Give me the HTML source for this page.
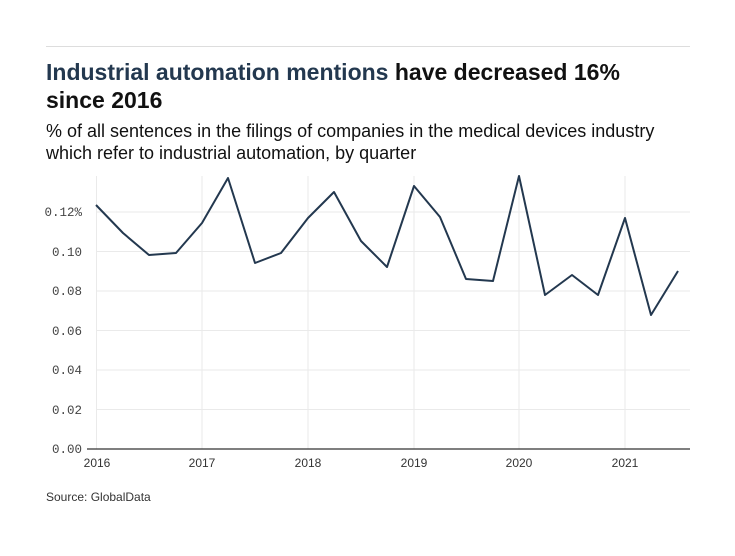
<!DOCTYPE html>
<html><head><meta charset="utf-8"><style>
body{margin:0;background:#fff;width:735px;height:551px;overflow:hidden;font-family:"Liberation Sans",sans-serif;}
</style></head><body>
<svg width="735" height="551" xmlns="http://www.w3.org/2000/svg">
<line x1="46" y1="46.5" x2="690" y2="46.5" stroke="#ddd"/>
<text x="46" y="80" font-size="23" font-weight="bold" fill="#111"><tspan fill="#23384f">Industrial automation mentions</tspan> have decreased 16%</text>
<text x="46" y="108" font-size="23" font-weight="bold" fill="#111">since 2016</text>
<text x="46" y="137" font-size="18" fill="#111">% of all sentences in the filings of companies in the medical devices industry</text>
<text x="46" y="159" font-size="18" fill="#111">which refer to industrial automation, by quarter</text>
<g stroke="#eaeaea" stroke-width="1">
<line x1="96.5" y1="176" x2="96.5" y2="449"/><line x1="202" y1="176" x2="202" y2="449"/><line x1="308" y1="176" x2="308" y2="449"/><line x1="414" y1="176" x2="414" y2="449"/><line x1="519" y1="176" x2="519" y2="449"/><line x1="625" y1="176" x2="625" y2="449"/>
<line x1="96" y1="212" x2="690" y2="212"/><line x1="96" y1="251.5" x2="690" y2="251.5"/><line x1="96" y1="291" x2="690" y2="291"/><line x1="96" y1="330.5" x2="690" y2="330.5"/><line x1="96" y1="370" x2="690" y2="370"/><line x1="96" y1="409.5" x2="690" y2="409.5"/>
</g>
<line x1="87" y1="449" x2="690" y2="449" stroke="#333" stroke-width="1.2"/>
<g font-family="Liberation Mono,monospace" font-size="12.5" fill="#444" text-anchor="end">
<text x="82" y="216">0.12%</text><text x="82" y="256">0.10</text><text x="82" y="295">0.08</text><text x="82" y="335">0.06</text><text x="82" y="374">0.04</text><text x="82" y="414">0.02</text><text x="82" y="453">0.00</text>
</g>
<g font-size="12" fill="#333" text-anchor="middle">
<text x="97" y="467">2016</text><text x="202" y="467">2017</text><text x="308" y="467">2018</text><text x="414" y="467">2019</text><text x="519" y="467">2020</text><text x="625" y="467">2021</text>
</g>
<polyline fill="none" stroke="#23384f" stroke-width="2" stroke-linejoin="round" points="96,205 123,233 149,255 176,253 202,223 228,178 255,263 281,253 308,218 334,192 361,241 387,267 414,186 440,217 466,279 493,281 519,176 545,295 572,275 598,295 625,218 651,315 678,271"/>
<text x="46" y="501" font-size="12" fill="#333">Source: GlobalData</text>
</svg>
</body></html>
